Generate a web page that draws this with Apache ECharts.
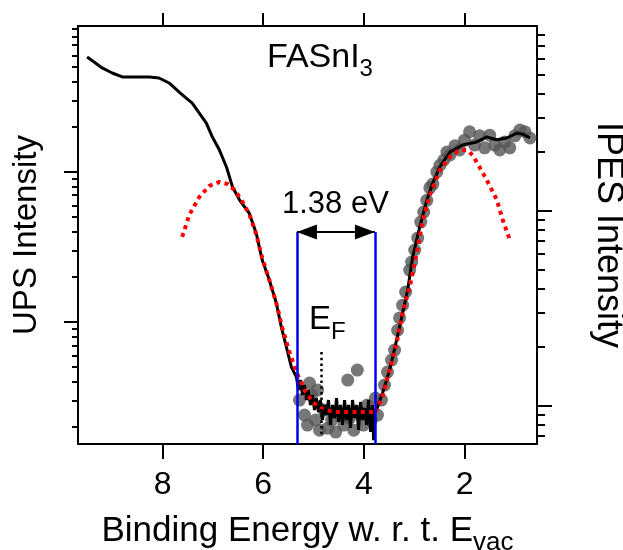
<!DOCTYPE html>
<html><head><meta charset="utf-8">
<script src="https://cdn.jsdelivr.net/npm/echarts@6/dist/echarts.min.js"></script>
<style>html,body{margin:0;padding:0;background:#fff}#c{width:623px;height:550px}</style>
</head><body><div id="c"></div>
<script>
const FONT = '"Liberation Sans", Arial, Helvetica, sans-serif';

// axis ticks
const xTicks = [2, 4, 6, 8];
const leftMajor = [1, 10];
const leftMinor = [0.2,0.3,0.4,0.5,0.6,0.7,0.8,0.9,2,3,4,5,6,7,8,9,20,30,40,50,60,70,80,90];
const rightMajor = [1, 10];
const rightMinor = [0.7,0.8,0.9,2,3,4,5,6,7,8,9,20,30,40,50,60,70,80];

// UPS spectrum (left axis)
const upsE = [9.50,9.36,9.20,9.00,8.80,8.52,8.26,8.07,7.87,7.67,7.53,7.41,7.27,7.13,7.01,6.87,6.73,6.61,6.47,6.28,6.14,6.02,5.88,5.74,5.64,5.54,5.44,
  5.340,5.300,5.260,5.220,5.180,5.141,5.101,5.061,5.021,4.981,4.942,4.902,4.862,4.822,4.782,4.743,4.703,4.663,4.623,4.583,4.543,4.504,4.464,4.424,4.384,4.344,4.305,4.265,4.225,4.185,4.145,4.106,4.066,4.026,3.986,3.946,3.907,3.867,3.827,3.807,3.787];
const upsI = [58.4,54.1,49.4,45.7,43.0,43.0,43.0,42.3,39.2,34.1,31.1,28.8,24.7,21.2,17.1,14.0,10.8,7.94,6.50,5.33,3.92,2.59,1.91,1.34,0.926,0.682,0.501,
  0.430,0.352,0.411,0.326,0.380,0.302,0.352,0.280,0.326,0.259,0.311,0.251,0.302,0.222,0.280,0.240,0.302,0.206,0.280,0.229,0.311,0.216,0.280,0.206,0.302,0.222,0.280,0.197,0.302,0.229,0.280,0.191,0.293,0.222,0.267,0.206,0.302,0.185,0.280,0.163,0.259];

// UPS fit (left axis)
const upsFitE = [7.61,7.47,7.27,7.07,6.87,6.71,6.57,6.43,6.27,6.14,6.02,5.88,5.74,5.62,5.48,5.34,5.18,5.02,4.82,4.58,4.28,3.79];
const upsFitI = [3.69,5.17,6.81,8.07,8.58,8.32,7.59,6.50,5.17,3.86,2.67,1.91,1.34,0.912,0.631,0.464,0.352,0.293,0.263,0.251,0.251,0.251];

// IPES raw points (right axis)
const ipesE = [5.28,5.18,5.12,5.08,5.04,4.96,4.92,4.88,4.80,4.72,4.64,4.56,4.48,4.40,4.32,4.28,4.20,4.13,4.09,4.01,3.93,3.85,3.77,
  3.73,3.65,3.59,3.53,3.45,3.39,3.33,3.29,3.23,3.17,3.09,3.05,2.99,2.93,2.87,2.81,2.75,2.69,2.63,2.55,2.49,2.41,2.35,2.29,2.19,2.10,2.00,1.90,1.80,1.70,1.60,1.50,1.40,1.30,1.20,1.10,1.00,0.90,0.80,0.70];
const ipesI = [1.07,0.896,0.796,1.307,1.135,0.845,1.204,0.750,0.951,0.768,0.845,0.733,0.896,0.796,1.355,0.865,0.750,1.524,0.928,0.796,1.01,0.845,1.095,
  0.896,1.07,1.277,1.489,1.716,1.93,2.44,2.82,3.28,3.83,4.96,5.46,6.29,7.24,8.75,9.84,11.3,13.1,13.7,15.8,17.1,18.2,20.0,19.3,21.5,20.5,23.0,25.4,21.7,24.2,21.0,24.4,21.7,20.5,22.5,21.0,24.2,25.9,25.4,23.6];

// IPES smoothed (right axis)
const ipesSmE = [3.75,3.63,3.49,3.35,3.23,3.13,3.03,2.89,2.75,2.63,2.49,2.29,2.04,1.76,1.56,1.36,1.16,0.96,0.84,0.70];
const ipesSmI = [0.951,1.16,1.524,2.17,2.99,3.92,5.79,8.25,11.3,13.9,16.8,20.0,21.7,22.5,23.9,23.1,23.6,25.0,24.7,23.6];

// IPES fit (right axis)
const ipesFitE = [3.77,3.63,3.49,3.35,3.23,3.09,2.95,2.83,2.69,2.49,2.29,2.10,1.96,1.84,1.70,1.56,1.36,1.24,1.10];
const ipesFitI = [0.929,1.108,1.524,2.097,2.99,4.06,6.07,8.96,12.0,16.2,18.9,20.5,20.5,19.3,16.7,14.4,11.4,8.96,7.08];

// annotations
const edgeE = [5.33, 3.78];     // VBM / CBM
const arrowLevel = 3.98;       // left-axis value of arrow
const efE = 4.84;
const efRange = [0.631, 0.1766];
const xRange = [0.56, 9.68];
const leftRange = [0.1538, 94.0];
const rightRange = [0.637, 88.5];

const zip = (a, b) => a.map((v, i) => [v, b[i]]);

const chart = echarts.init(document.getElementById('c'), null, {renderer: 'canvas'});
const axLine = {show: true, lineStyle: {color: '#000', width: 2}};
const option = {
  animation: false,
  backgroundColor: '#fff',
  grid: {left: 78, right: 86, top: 26, bottom: 106, containLabel: false, outerBoundsMode: 'none'},
  xAxis: [
    {type: 'value', position: 'bottom', inverse: true, min: xRange[0], max: xRange[1],
     axisLine: axLine,
     axisTick: {show: true, length: 15, lineStyle: {color: '#000', width: 2}, customValues: xTicks},
     axisLabel: {show: true, customValues: xTicks, fontSize: 32, margin: 25, color: '#000', fontFamily: FONT},
     splitLine: {show: false},
     name: '{a|Binding Energy w. r. t. E}{s|vac}', nameLocation: 'middle', nameGap: 62, nameMoveOverlap: false,
     nameTextStyle: {color: '#000', rich: {
       a: {fontSize: 35, lineHeight: 50, fontFamily: FONT, color: '#000'},
       s: {fontSize: 26, verticalAlign: 'bottom', fontFamily: FONT, color: '#000'}}}},
    {type: 'value', position: 'top', inverse: true, min: xRange[0], max: xRange[1],
     axisLine: axLine,
     axisTick: {show: true, length: 13, lineStyle: {color: '#000', width: 2}, customValues: xTicks},
     axisLabel: {show: false}, splitLine: {show: false}}
  ],
  yAxis: [
    {type: 'log', position: 'left', min: leftRange[0], max: leftRange[1],
     axisLine: axLine,
     axisTick: {show: true, length: 14, lineStyle: {color: '#000', width: 2}, customValues: leftMajor},
     axisLabel: {show: false}, splitLine: {show: false}, minorTick: {show: false},
     name: 'UPS Intensity', nameLocation: 'middle', nameRotate: 90, nameGap: 35, nameMoveOverlap: false,
     nameTextStyle: {fontSize: 33, fontFamily: FONT, color: '#000'}},
    {type: 'log', position: 'right', min: rightRange[0], max: rightRange[1],
     axisLine: axLine,
     axisTick: {show: true, length: 15, lineStyle: {color: '#000', width: 2}, customValues: rightMajor},
     axisLabel: {show: false}, splitLine: {show: false},
     name: 'IPES Intensity', nameLocation: 'middle', nameRotate: -90, nameGap: 53, nameMoveOverlap: false,
     nameTextStyle: {fontSize: 36, fontFamily: FONT, color: '#000'}},
    {type: 'log', position: 'left', min: leftRange[0], max: leftRange[1],
     axisLine: {show: false},
     axisTick: {show: true, length: 6, lineStyle: {color: '#000', width: 2}, customValues: leftMinor},
     axisLabel: {show: false}, splitLine: {show: false}},
    {type: 'log', position: 'right', min: rightRange[0], max: rightRange[1],
     axisLine: {show: false},
     axisTick: {show: true, length: 8, lineStyle: {color: '#000', width: 2}, customValues: rightMinor},
     axisLabel: {show: false}, splitLine: {show: false}}
  ],
  series: [
    {type: 'scatter', name: 'IPES', xAxisIndex: 0, yAxisIndex: 1, data: zip(ipesE, ipesI),
     symbolSize: 13, itemStyle: {color: '#555555'}, z: 2, silent: true},
    {type: 'line', name: 'UPS', xAxisIndex: 0, yAxisIndex: 0, data: zip(upsE, upsI),
     symbol: 'none', lineStyle: {color: '#000', width: 3}, z: 3, silent: true},
    {type: 'line', name: 'IPES smoothed', xAxisIndex: 0, yAxisIndex: 1, data: zip(ipesSmE, ipesSmI),
     symbol: 'none', lineStyle: {color: '#000', width: 3}, z: 3, silent: true},
    {type: 'line', name: 'UPS fit', xAxisIndex: 0, yAxisIndex: 0, data: zip(upsFitE, upsFitI),
     symbol: 'none', lineStyle: {color: '#ff0000', width: 4, type: [4, 4.3]}, z: 4, silent: true},
    {type: 'line', name: 'IPES fit', xAxisIndex: 0, yAxisIndex: 1, data: zip(ipesFitE, ipesFitI),
     symbol: 'none', lineStyle: {color: '#ff0000', width: 4, type: [4, 4.3]}, z: 4, silent: true},
    {type: 'line', name: 'markers', xAxisIndex: 0, yAxisIndex: 0, data: [], z: 5,
     markLine: {silent: true, animation: false, symbol: ['none', 'none'], label: {show: false},
       data: [
         [{coord: [edgeE[0], arrowLevel], lineStyle: {color: '#0000ee', width: 2.5, type: 'solid'}}, {coord: [edgeE[0], leftRange[0]]}],
         [{coord: [edgeE[1], arrowLevel], lineStyle: {color: '#0000ee', width: 2.5, type: 'solid'}}, {coord: [edgeE[1], leftRange[0]]}],
         [{coord: [efE, efRange[0]], lineStyle: {color: '#000', width: 2.5, type: [2.5, 3.2]}}, {coord: [efE, efRange[1]]}]
       ]}},
    {type: 'line', name: 'gap', xAxisIndex: 0, yAxisIndex: 0, data: [], z: 6,
     markLine: {silent: true, animation: false, symbol: ['triangle', 'triangle'], symbolSize: [15, 20],
       symbolOffset: [[0, 10], [0, 10]], label: {show: false},
       lineStyle: {color: '#000', width: 2, type: 'solid'},
       data: [[{coord: [edgeE[0], arrowLevel]}, {coord: [edgeE[1], arrowLevel]}]]}}
  ],
  graphic: [
    {type: 'text', x: 267, y: 33.6, silent: true,
     style: {text: '{a|FASnI}{s|3}', fill: '#000', align: 'left', verticalAlign: 'top',
       rich: {a: {fontSize: 34, lineHeight: 48, fontFamily: FONT, fill: '#000'},
              s: {fontSize: 24, verticalAlign: 'bottom', fontFamily: FONT, fill: '#000'}}}},
    {type: 'text', x: 282, y: 188.5, silent: true,
     style: {text: '1.38 eV', fill: '#000', fontSize: 31, fontFamily: FONT, align: 'left', verticalAlign: 'top'}},
    {type: 'text', x: 309, y: 296.2, silent: true,
     style: {text: '{a|E}{s|F}', fill: '#000', align: 'left', verticalAlign: 'top',
       rich: {a: {fontSize: 33, lineHeight: 48, fontFamily: FONT, fill: '#000'},
              s: {fontSize: 24, verticalAlign: 'bottom', fontFamily: FONT, fill: '#000'}}}}
  ]
};
chart.setOption(option);
</script>
</body></html>
